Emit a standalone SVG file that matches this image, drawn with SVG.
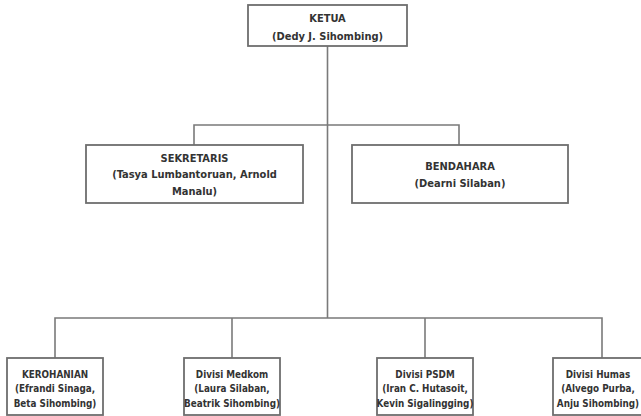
<svg xmlns="http://www.w3.org/2000/svg" width="641" height="416" viewBox="0 0 641 416">
<style>
.box{fill:#fff;stroke:#6e6e6e;stroke-width:1.8}
.ln{fill:none;stroke:#7a7a7a;stroke-width:1.6}
text{font-family:"DejaVu Sans Condensed","Liberation Sans",sans-serif;font-weight:bold;font-size:11px;fill:#333;text-anchor:middle}
.sm{font-size:9.8px}
</style>
<rect width="641" height="416" fill="#fff"/>
<g id="connectors">
<path class="ln" d="M327.5 46V318"/>
<path class="ln" d="M194 145V125H459V145"/>
<path class="ln" d="M55 358V318H602V358"/>
<path class="ln" d="M232 318V358"/>
<path class="ln" d="M425 318V358"/>
</g>
<g id="ketua">
<rect class="box" x="248" y="5" width="159" height="41"/>
<text x="327.5" y="22">KETUA</text>
<text x="327.5" y="40">(Dedy J. Sihombing)</text>
</g>
<g id="sekretaris">
<rect class="box" x="86" y="145" width="217" height="58"/>
<text x="194.5" y="162">SEKRETARIS</text>
<text x="194.5" y="178">(Tasya Lumbantoruan, Arnold</text>
<text x="194.5" y="195">Manalu)</text>
</g>
<g id="bendahara">
<rect class="box" x="352" y="145" width="216" height="58"/>
<text x="460" y="170">BENDAHARA</text>
<text x="460" y="187">(Dearni Silaban)</text>
</g>
<g id="kerohanian" class="sm">
<rect class="box" x="7" y="358" width="96" height="57"/>
<text class="sm" x="55" y="378">KEROHANIAN</text>
<text class="sm" x="55" y="392">(Efrandi Sinaga,</text>
<text class="sm" x="55" y="407">Beta Sihombing)</text>
</g>
<g id="medkom">
<rect class="box" x="184" y="358" width="96" height="57"/>
<text class="sm" x="232" y="378">Divisi Medkom</text>
<text class="sm" x="232" y="392">(Laura Silaban,</text>
<text class="sm" x="232" y="407">Beatrik Sihombing)</text>
</g>
<g id="psdm">
<rect class="box" x="377" y="358" width="96" height="57"/>
<text class="sm" x="425" y="378">Divisi PSDM</text>
<text class="sm" x="425" y="392">(Iran C. Hutasoit,</text>
<text class="sm" x="425" y="407">Kevin Sigalingging)</text>
</g>
<g id="humas">
<rect class="box" x="553" y="358" width="96" height="57"/>
<text class="sm" x="598" y="378">Divisi Humas</text>
<text class="sm" x="598" y="392">(Alvego Purba,</text>
<text class="sm" x="598" y="407">Anju Sihombing)</text>
</g>
</svg>
